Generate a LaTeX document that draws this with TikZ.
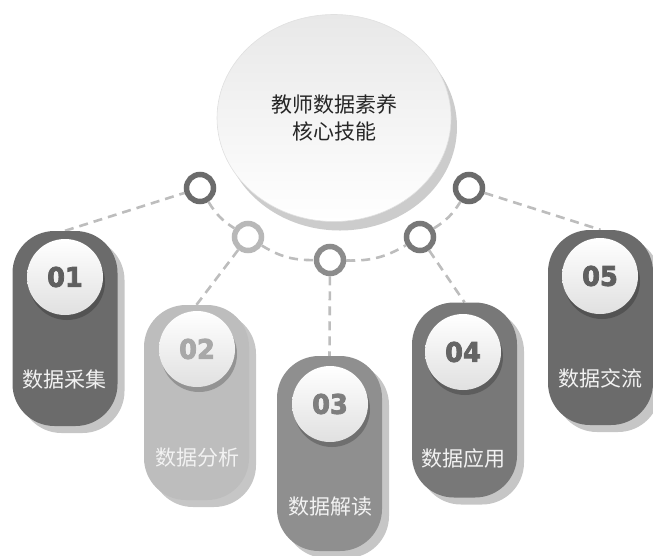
\documentclass[tikz,border=0pt]{standalone}
\usepackage{fontspec}
\usetikzlibrary{shapes.geometric,shadows}
\newfontfamily\cjk{Noto Sans CJK SC}
\newfontfamily\numfont{DejaVu Sans}[UprightFont={* Bold}, FakeBold=3, FakeStretch=0.95]
\definecolor{pA}{HTML}{6B6B6B}
\definecolor{pB}{HTML}{BDBDBD}
\definecolor{pC}{HTML}{8F8F8F}
\definecolor{pD}{HTML}{787878}
\definecolor{nA}{HTML}{5F5F5F}
\definecolor{nB}{HTML}{A8A8A8}
\definecolor{nC}{HTML}{7E7E7E}
\definecolor{nD}{HTML}{656565}
\definecolor{shd}{HTML}{C6C6C6}
\definecolor{dashc}{HTML}{BDBDBD}
\definecolor{ringB}{HTML}{B8B8B8}
\definecolor{ringC}{HTML}{8C8C8C}
\pgfdeclarelayer{background}
\pgfsetlayers{background,main}
\begin{document}
\begin{tikzpicture}[x=1pt,y=-1pt,
  pill/.style={rectangle, rounded corners=42pt, minimum width=105pt, minimum height=195pt, inner sep=0pt,
    drop shadow={shadow xshift=7pt, shadow yshift=-7pt, fill=shd, opacity=1}},
  numcircle/.style={circle, minimum size=76pt, inner sep=0pt, top color=white, bottom color=black!12,
    font=\numfont\fontsize{27}{27}\selectfont,
    drop shadow={shadow xshift=2pt, shadow yshift=-5pt, fill=black, opacity=.22}},
  label/.style={font=\cjk\fontsize{21}{21}\selectfont, text=white!95!black},
  ring/.style={circle, minimum size=27pt, inner sep=0pt, line width=5.5pt, fill=white, draw=#1},
  link/.style={draw=dashc, line width=2.6pt, dash pattern=on 9pt off 6pt}
]
\useasboundingbox (0,0) rectangle (653,555);

% central circle
\node[ellipse, minimum width=234pt, minimum height=207pt, top color=black!9, bottom color=white,
  draw=black!12, line width=.6pt,
  drop shadow={shadow xshift=6pt, shadow yshift=-9pt, fill=black!20, opacity=1},
  font=\cjk\fontsize{21}{27}\selectfont, align=center, text=black!85] (core) at (334,118)
  {教师数据素养\\核心技能};

% pills
\node[pill, fill=pA] (p1) at (65,328.5) {};
\node[pill, fill=pB] (p2) at (196.5,402.5) {};
\node[pill, fill=pC] (p3) at (329.5,453.5) {};
\node[pill, fill=pD] (p4) at (464.5,400) {};
\node[pill, fill=pA] (p5) at (600.5,327.5) {};

% number circles
\node[numcircle, text=nA] (n1) at (65,277) {01};
\node[numcircle, text=nB] (n2) at (197,349) {02};
\node[numcircle, text=nC] (n3) at (330,404) {03};
\node[numcircle, text=nD] (n4) at (463,352) {04};
\node[numcircle, text=nA] (n5) at (600,276) {05};

% labels
\node[label] (t1) at (65,380) {数据采集};
\node[label] (t2) at (197,458) {数据分析};
\node[label] (t3) at (330,507) {数据解读};
\node[label] (t4) at (463,458) {数据应用};
\node[label] (t5) at (600,378) {数据交流};

% rings
\node[ring=pA] (rA) at (200,188) {};
\node[ring=ringB] (rB) at (248,237) {};
\node[ring=ringC] (rC) at (330,260) {};
\node[ring=pD] (rD) at (420,237) {};
\node[ring=pA] (rE) at (469,188) {};

% connectors
\begin{pgfonlayer}{background}
\draw[link] (p1.north) -- (rA);
\draw[link] (rA) to[bend right=13] (rB);
\draw[link] (rB) to[bend right=16] (rC);
\draw[link] (rC) to[bend right=16] (rD);
\draw[link] (rD) to[bend right=13] (rE);
\draw[link] (rE) -- (p5.north);
\draw[link] (rB) -- (p2.north);
\draw[link] (rC) -- (p3.north);
\draw[link] (rD) -- (p4.north);
\end{pgfonlayer}
\end{tikzpicture}
\end{document}
